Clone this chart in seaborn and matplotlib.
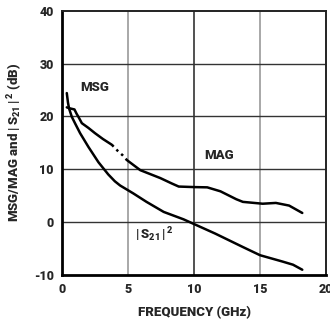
import matplotlib
matplotlib.use("Agg")
import matplotlib.pyplot as plt
import seaborn as sns
import pandas as pd

# |S21|^2 curve
s21_freq = [0.36, 0.45, 0.53, 0.74, 1.0, 1.37, 2.0, 2.76, 3.5, 4.0, 4.4, 5.0, 5.4, 6.4, 7.7, 9.2, 10.0, 11.6, 13.7, 15.0, 16.7, 17.5, 18.2]
s21_db = [24.4, 22.6, 21.5, 19.9, 18.6, 16.8, 14.2, 11.3, 9.0, 7.7, 6.9, 6.0, 5.4, 3.8, 1.9, 0.5, -0.4, -2.2, -4.75, -6.3, -7.5, -8.1, -9.05]

# MSG (solid part)
msg_freq = [0.36, 0.6, 0.94, 1.1, 1.24, 1.5, 2.0, 2.5, 3.1, 3.78]
msg_db = [21.7, 21.5, 21.3, 20.5, 19.9, 18.7, 17.8, 16.8, 15.7, 14.6]

# MSG -> MAG transition (dotted)
trans_freq = [3.78, 4.2, 4.6, 4.92]
trans_db = [14.6, 13.5, 12.6, 11.7]

# MAG
mag_freq = [4.92, 5.93, 7.45, 8.3, 8.84, 10.0, 11.0, 12.0, 12.4, 13.2, 13.7, 15.2, 16.2, 17.2, 18.2]
mag_db = [11.7, 9.8, 8.3, 7.3, 6.7, 6.6, 6.55, 5.8, 5.3, 4.3, 3.8, 3.45, 3.6, 3.1, 1.7]

x_ticks = [0, 5, 10, 15, 20]
y_ticks = [-10, 0, 10, 20, 30, 40]

sns.set_style("white")
FONT = ["Roboto", "DejaVu Sans"]
W = "black"
plt.rcParams["font.family"] = FONT
plt.rcParams["font.weight"] = W
plt.rcParams["mathtext.fontset"] = "custom"
plt.rcParams["mathtext.rm"] = "Roboto:black"
plt.rcParams["mathtext.it"] = "Roboto:black"
plt.rcParams["mathtext.bf"] = "Roboto:black"

fig = plt.figure(figsize=(3.3, 3.24), dpi=100)
ax = fig.add_axes([0.188, 0.152, 0.800, 0.815])

# grid
for xv in x_ticks[1:-1]:
    ax.axvline(xv, color="#333333" if xv == 10 else "#999999", lw=1.2, zorder=1)
for yv in y_ticks[1:-1]:
    ax.axhline(yv, color="#333333", lw=1.0, zorder=1)

lw = 1.8
sns.lineplot(data=pd.DataFrame({"f": s21_freq, "g": s21_db}), x="f", y="g",
             ax=ax, color="black", lw=lw, sort=False, zorder=3)
sns.lineplot(data=pd.DataFrame({"f": msg_freq, "g": msg_db}), x="f", y="g",
             ax=ax, color="black", lw=lw, sort=False, zorder=3)
sns.lineplot(data=pd.DataFrame({"f": trans_freq, "g": trans_db}), x="f", y="g",
             ax=ax, color="black", lw=lw, sort=False, zorder=3, linestyle=(0, (1, 1.6)))
sns.lineplot(data=pd.DataFrame({"f": mag_freq, "g": mag_db}), x="f", y="g",
             ax=ax, color="black", lw=lw, sort=False, zorder=3)

ax.set_xlim(0, 20)
ax.set_ylim(-10, 40)
ax.set_xticks(x_ticks)
ax.set_yticks(y_ticks)
ax.set_xticklabels([str(v) for v in x_ticks], fontsize=9, fontweight=W)
ax.set_yticklabels([str(v) for v in y_ticks], fontsize=9, fontweight=W)
ax.tick_params(axis="both", length=0, pad=6)

for side in ["left", "bottom"]:
    ax.spines[side].set_linewidth(2.0)
    ax.spines[side].set_color("black")
for side in ["top", "right"]:
    ax.spines[side].set_linewidth(1.4)
    ax.spines[side].set_color("#222222")

ax.set_xlabel("FREQUENCY (GHz)", fontsize=9.5, fontweight=W, labelpad=7)
ax.set_ylabel(r"MSG/MAG and $|\,\mathrm{S}_{21}\,|^{\,2}$ (dB)", fontsize=9.5,
              fontweight=W, labelpad=6)

ax.text(2.5, 25.4, "MSG", fontsize=9.5, fontweight=W, ha="center", va="center")
ax.text(11.9, 12.5, "MAG", fontsize=9.5, fontweight=W, ha="center", va="center")
ax.text(6.96, -2.5, r"$|\,\mathrm{S}_{21}\,|^{\,2}$", fontsize=9.5, fontweight=W,
        ha="center", va="center")

fig.savefig("out.png", dpi=100)
